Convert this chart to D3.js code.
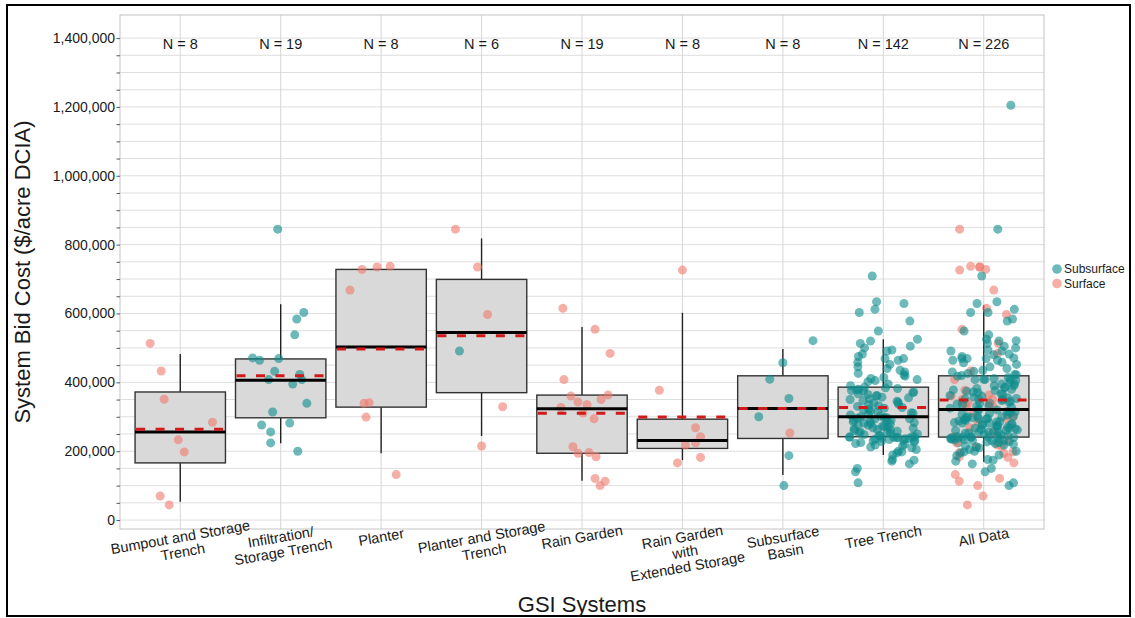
<!DOCTYPE html>
<html>
<head>
<meta charset="utf-8">
<script src="https://cdn.jsdelivr.net/npm/d3@7"></script>
<style>
  body { margin: 0; background: #fff; }
  text { font-family: "Liberation Sans", Arial, Helvetica, sans-serif; fill: #1a1a1a; }
</style>
</head>
<body>
<script>
// System bid cost per acre of DCIA, values in thousands of dollars.
const categories = [
  "Bumpout and Storage\nTrench",
  "Infiltration/\nStorage Trench",
  "Planter",
  "Planter and Storage\nTrench",
  "Rain Garden",
  "Rain Garden\nwith\nExtended Storage",
  "Subsurface\nBasin",
  "Tree Trench",
  "All Data"
];
const sampleSizes  = [8, 19, 8, 6, 19, 8, 8, 142, 226];
const whiskerLow   = [53, 223, 194, 244, 114, 174, 131, 189, 169];
const quartile1    = [166, 297, 328, 370, 194, 208, 237, 242, 241];
const medians      = [256, 406, 503, 545, 323, 231, 324, 300, 321];
const quartile3    = [372, 468, 728, 699, 363, 293, 419, 386, 419];
const whiskerHigh  = [482, 627, 728, 818, 561, 602, 497, 525, 624];
const means        = [264, 419, 497, 535, 310, 299, 324, 327, 349];

const seriesNames = ["Subsurface", "Surface"];
const yLabelTicks = [0, 200, 400, 600, 800, 1000, 1200, 1400];

// Individual projects: [jitter (fraction of category step), cost, type]
const bumpoutPts = [
  [-0.30, 513, "Surface"], [-0.19, 433, "Surface"], [-0.16, 351, "Surface"],
  [0.32, 284, "Surface"], [-0.02, 233, "Surface"], [0.04, 198, "Surface"],
  [-0.20, 70, "Surface"], [-0.11, 44, "Surface"]
];
const infiltrationPts = [
  [-0.03, 845, "Subsurface"], [0.23, 603, "Subsurface"], [0.16, 584, "Subsurface"],
  [0.14, 538, "Subsurface"], [-0.28, 471, "Subsurface"], [-0.21, 464, "Subsurface"],
  [-0.02, 469, "Subsurface"], [-0.06, 432, "Subsurface"], [0.19, 423, "Subsurface"],
  [-0.12, 408, "Subsurface"], [0.21, 408, "Subsurface"], [0.12, 395, "Subsurface"],
  [0.26, 339, "Subsurface"], [-0.08, 314, "Subsurface"], [-0.19, 276, "Subsurface"],
  [0.09, 282, "Subsurface"], [-0.10, 256, "Subsurface"], [-0.10, 224, "Subsurface"],
  [0.17, 200, "Subsurface"]
];
const planterPts = [
  [-0.19, 728, "Surface"], [-0.04, 735, "Surface"], [0.09, 737, "Surface"],
  [-0.31, 668, "Surface"], [-0.17, 339, "Surface"], [-0.12, 341, "Surface"],
  [-0.15, 299, "Surface"], [0.15, 132, "Surface"]
];
const planterTrenchPts = [
  [-0.26, 845, "Surface"], [-0.04, 735, "Surface"], [0.06, 597, "Surface"],
  [-0.22, 491, "Subsurface"], [0.21, 329, "Surface"], [0.00, 215, "Surface"]
];
const rainGardenPts = [
  [-0.19, 615, "Surface"], [0.13, 554, "Surface"], [0.28, 484, "Surface"],
  [-0.18, 408, "Surface"], [-0.11, 360, "Surface"], [-0.04, 343, "Surface"],
  [-0.21, 327, "Surface"], [0.01, 311, "Surface"], [0.19, 350, "Surface"],
  [0.26, 363, "Surface"], [0.12, 294, "Surface"], [0.05, 335, "Surface"],
  [-0.09, 213, "Surface"], [-0.04, 194, "Surface"], [0.07, 196, "Surface"],
  [0.14, 184, "Surface"], [0.13, 121, "Surface"], [0.23, 113, "Surface"],
  [0.18, 100, "Surface"]
];
const rainGardenExtPts = [
  [0.00, 726, "Surface"], [-0.23, 377, "Surface"], [0.13, 268, "Surface"],
  [0.18, 242, "Surface"], [0.13, 224, "Surface"], [0.03, 218, "Surface"],
  [0.18, 182, "Surface"], [-0.05, 166, "Surface"]
];
const basinPts = [
  [0.30, 521, "Subsurface"], [0.00, 457, "Subsurface"], [-0.13, 409, "Subsurface"],
  [0.06, 353, "Subsurface"], [-0.24, 300, "Subsurface"], [0.07, 253, "Surface"],
  [0.06, 187, "Subsurface"], [0.01, 100, "Subsurface"]
];
// Tree trench projects (all subsurface)
const treeTrenchCosts = [
  108, 140, 150, 163, 171, 174, 176, 189, 195, 198, 200, 205, 210, 212, 215, 218, 220, 222,
  225, 227, 228, 230, 231, 233, 234, 235, 236, 237, 238, 239, 240, 240, 241, 241, 242,
  243, 245, 246, 248, 250, 252, 253, 255, 256, 258, 260, 262, 263, 265, 267, 268, 270,
  272, 273, 275, 277, 278, 280, 282, 283, 285, 286, 288, 290, 291, 293, 294, 296, 297,
  298, 300,
  302, 305, 307, 310, 312, 315, 317, 320, 322, 325, 327, 330, 332, 335, 337, 340, 342,
  345, 347, 350, 352, 355, 357, 360, 362, 365, 367, 370, 372, 374, 376, 378, 380, 382,
  384, 386,
  390, 395, 402, 405, 408, 411, 414, 418, 422, 426, 430, 435, 440, 445, 452, 458, 464,
  469, 469, 475, 482, 491, 494, 500, 505, 513, 520, 525, 549, 578, 603, 612, 629, 634, 709
];
// Projects only counted in the combined group: [jitter, cost, type]
const allDataExtraPts = [
  [0.27, 1205, "Subsurface"], [0.10, 480, "Subsurface"], [-0.22, 420, "Subsurface"],
  [0.30, 390, "Subsurface"], [-0.05, 350, "Subsurface"], [0.18, 300, "Subsurface"],
  [-0.28, 260, "Subsurface"], [0.08, 230, "Subsurface"]
];
// Placement of the high-cost projects within the combined group
const allDataHighJitter = new Map([
  ["845|Subsurface", 0.14], ["845|Surface", -0.24],
  ["737|Surface", -0.13], ["735|Surface", -0.04], ["728|Surface", 0.02],
  ["726|Surface", -0.24], ["709|Subsurface", -0.02], ["668|Surface", 0.10]
]);

const W = 1135, H = 618;
const panel = { left: 120, right: 1044, top: 15, bottom: 529 };

const svg = d3.select("body").append("svg").attr("width", W).attr("height", H);

const x = d3.scalePoint().domain(categories).range([panel.left, panel.right]).padding(0.6);
const step = x.step();
const y = d3.scaleLinear().domain([-26, 1467]).range([panel.bottom, panel.top]);
const color = d3.scaleOrdinal().domain(seriesNames).range(["#0e8c8c", "#ee7a6c"]);

// jitter for the large groups
const jitter = d3.randomUniform.source(d3.randomLcg(0.2718))(-0.34, 0.34);
const treeTrenchPts = treeTrenchCosts.map(v => [jitter(), v, "Subsurface"]);
const groupPts = [bumpoutPts, infiltrationPts, planterPts, planterTrenchPts,
  rainGardenPts, rainGardenExtPts, basinPts, treeTrenchPts];
const allDataPts = groupPts.flat()
  .map(p => {
    const key = `${p[1]}|${p[2]}`;
    const j = allDataHighJitter.has(key) ? allDataHighJitter.get(key) : jitter();
    return [j, p[1], p[2]];
  })
  .concat(allDataExtraPts);
groupPts.push(allDataPts);

// outer frame
svg.append("rect").attr("x", 7).attr("y", 5).attr("width", 1123).attr("height", 611)
  .attr("fill", "none").attr("stroke", "#000").attr("stroke-width", 2);

// panel background + grid
svg.append("rect").attr("x", panel.left).attr("y", panel.top)
  .attr("width", panel.right - panel.left).attr("height", panel.bottom - panel.top)
  .attr("fill", "#fff");
const minorTicks = d3.range(0, 1401, 50);
svg.append("g").selectAll("line").data(minorTicks).join("line")
  .attr("x1", panel.left).attr("x2", panel.right)
  .attr("y1", d => y(d)).attr("y2", d => y(d))
  .attr("stroke", "#dedede").attr("stroke-width", 1);
svg.append("g").selectAll("line").data(categories).join("line")
  .attr("x1", d => x(d)).attr("x2", d => x(d))
  .attr("y1", panel.top).attr("y2", panel.bottom)
  .attr("stroke", "#d6d6d6").attr("stroke-width", 1);
svg.append("rect").attr("x", panel.left).attr("y", panel.top)
  .attr("width", panel.right - panel.left).attr("height", panel.bottom - panel.top)
  .attr("fill", "none").attr("stroke", "#c4c4c4").attr("stroke-width", 1);

// y axis
const yAxis = d3.axisLeft(y).tickValues(minorTicks).tickSize(3.5).tickPadding(1.5)
  .tickFormat(d => yLabelTicks.includes(d) ? d3.format(",")(d * 1000) : "");
const gy = svg.append("g").attr("transform", `translate(${panel.left},0)`).call(yAxis);
gy.select(".domain").remove();
gy.selectAll(".tick line").attr("stroke", "#555");
gy.selectAll(".tick text").style("font-size", "14px").attr("fill", "#1a1a1a");

// x tick labels (rotated, multi-line)
const xl = svg.append("g").selectAll("g").data(categories).join("g")
  .attr("transform", d => `translate(${x(d)},537) rotate(-10)`);
xl.selectAll("text").data(d => d.split("\n")).join("text")
  .attr("x", 0).attr("y", (d, i) => i * 15).attr("dy", "0.35em")
  .attr("text-anchor", "middle").style("font-size", "14.5px").text(d => d);

// sample size labels
svg.append("g").selectAll("text").data(categories).join("text")
  .attr("x", d => x(d)).attr("y", 49).attr("text-anchor", "middle")
  .style("font-size", "14.5px").text((d, i) => `N = ${sampleSizes[i]}`);

// axis titles
svg.append("text").attr("transform", `translate(30,272) rotate(-90)`)
  .attr("text-anchor", "middle").style("font-size", "22px")
  .text("System Bid Cost ($/acre DCIA)");
svg.append("text").attr("x", 582).attr("y", 612).attr("text-anchor", "middle")
  .style("font-size", "22px").text("GSI Systems");

// boxes
const boxW = step * 0.9;
const boxes = svg.append("g").selectAll("g").data(categories).join("g");
boxes.append("line")
  .attr("x1", d => x(d)).attr("x2", d => x(d))
  .attr("y1", (d, i) => y(whiskerLow[i])).attr("y2", (d, i) => y(quartile1[i]))
  .attr("stroke", "#222").attr("stroke-width", 1.4);
boxes.append("line")
  .attr("x1", d => x(d)).attr("x2", d => x(d))
  .attr("y1", (d, i) => y(quartile3[i])).attr("y2", (d, i) => y(whiskerHigh[i]))
  .attr("stroke", "#222").attr("stroke-width", 1.4);
boxes.append("rect")
  .attr("x", d => x(d) - boxW / 2).attr("width", boxW)
  .attr("y", (d, i) => y(quartile3[i]))
  .attr("height", (d, i) => y(quartile1[i]) - y(quartile3[i]))
  .attr("fill", "#d9d9d9").attr("stroke", "#333").attr("stroke-width", 1.4);

// points
const pts = svg.append("g");
groupPts.forEach((arr, gi) => {
  const cx = x(categories[gi]);
  pts.append("g").selectAll("circle").data(arr).join("circle")
    .attr("cx", p => cx + p[0] * step)
    .attr("cy", p => y(p[1]))
    .attr("r", 4.5)
    .attr("fill", p => color(p[2]))
    .attr("fill-opacity", 0.6);
});

// median and mean lines
const stats = svg.append("g").selectAll("g").data(categories).join("g");
stats.append("line")
  .attr("x1", d => x(d) - boxW / 2).attr("x2", d => x(d) + boxW / 2)
  .attr("y1", (d, i) => y(medians[i])).attr("y2", (d, i) => y(medians[i]))
  .attr("stroke", "#000").attr("stroke-width", 3);
stats.append("line")
  .attr("x1", d => x(d) - boxW / 2 + 1).attr("x2", d => x(d) + boxW / 2)
  .attr("y1", (d, i) => y(means[i])).attr("y2", (d, i) => y(means[i]))
  .attr("stroke", "#d11a1a").attr("stroke-width", 3).attr("stroke-dasharray", "9,10.5");

// legend
const lg = svg.append("g").selectAll("g").data(seriesNames).join("g")
  .attr("transform", (d, i) => `translate(1057,${269 + i * 14.5})`);
lg.append("circle").attr("r", 4.8).attr("fill", d => color(d)).attr("fill-opacity", 0.6);
lg.append("text").attr("x", 7).attr("dy", "0.35em").style("font-size", "12px").text(d => d);
</script>
</body>
</html>
